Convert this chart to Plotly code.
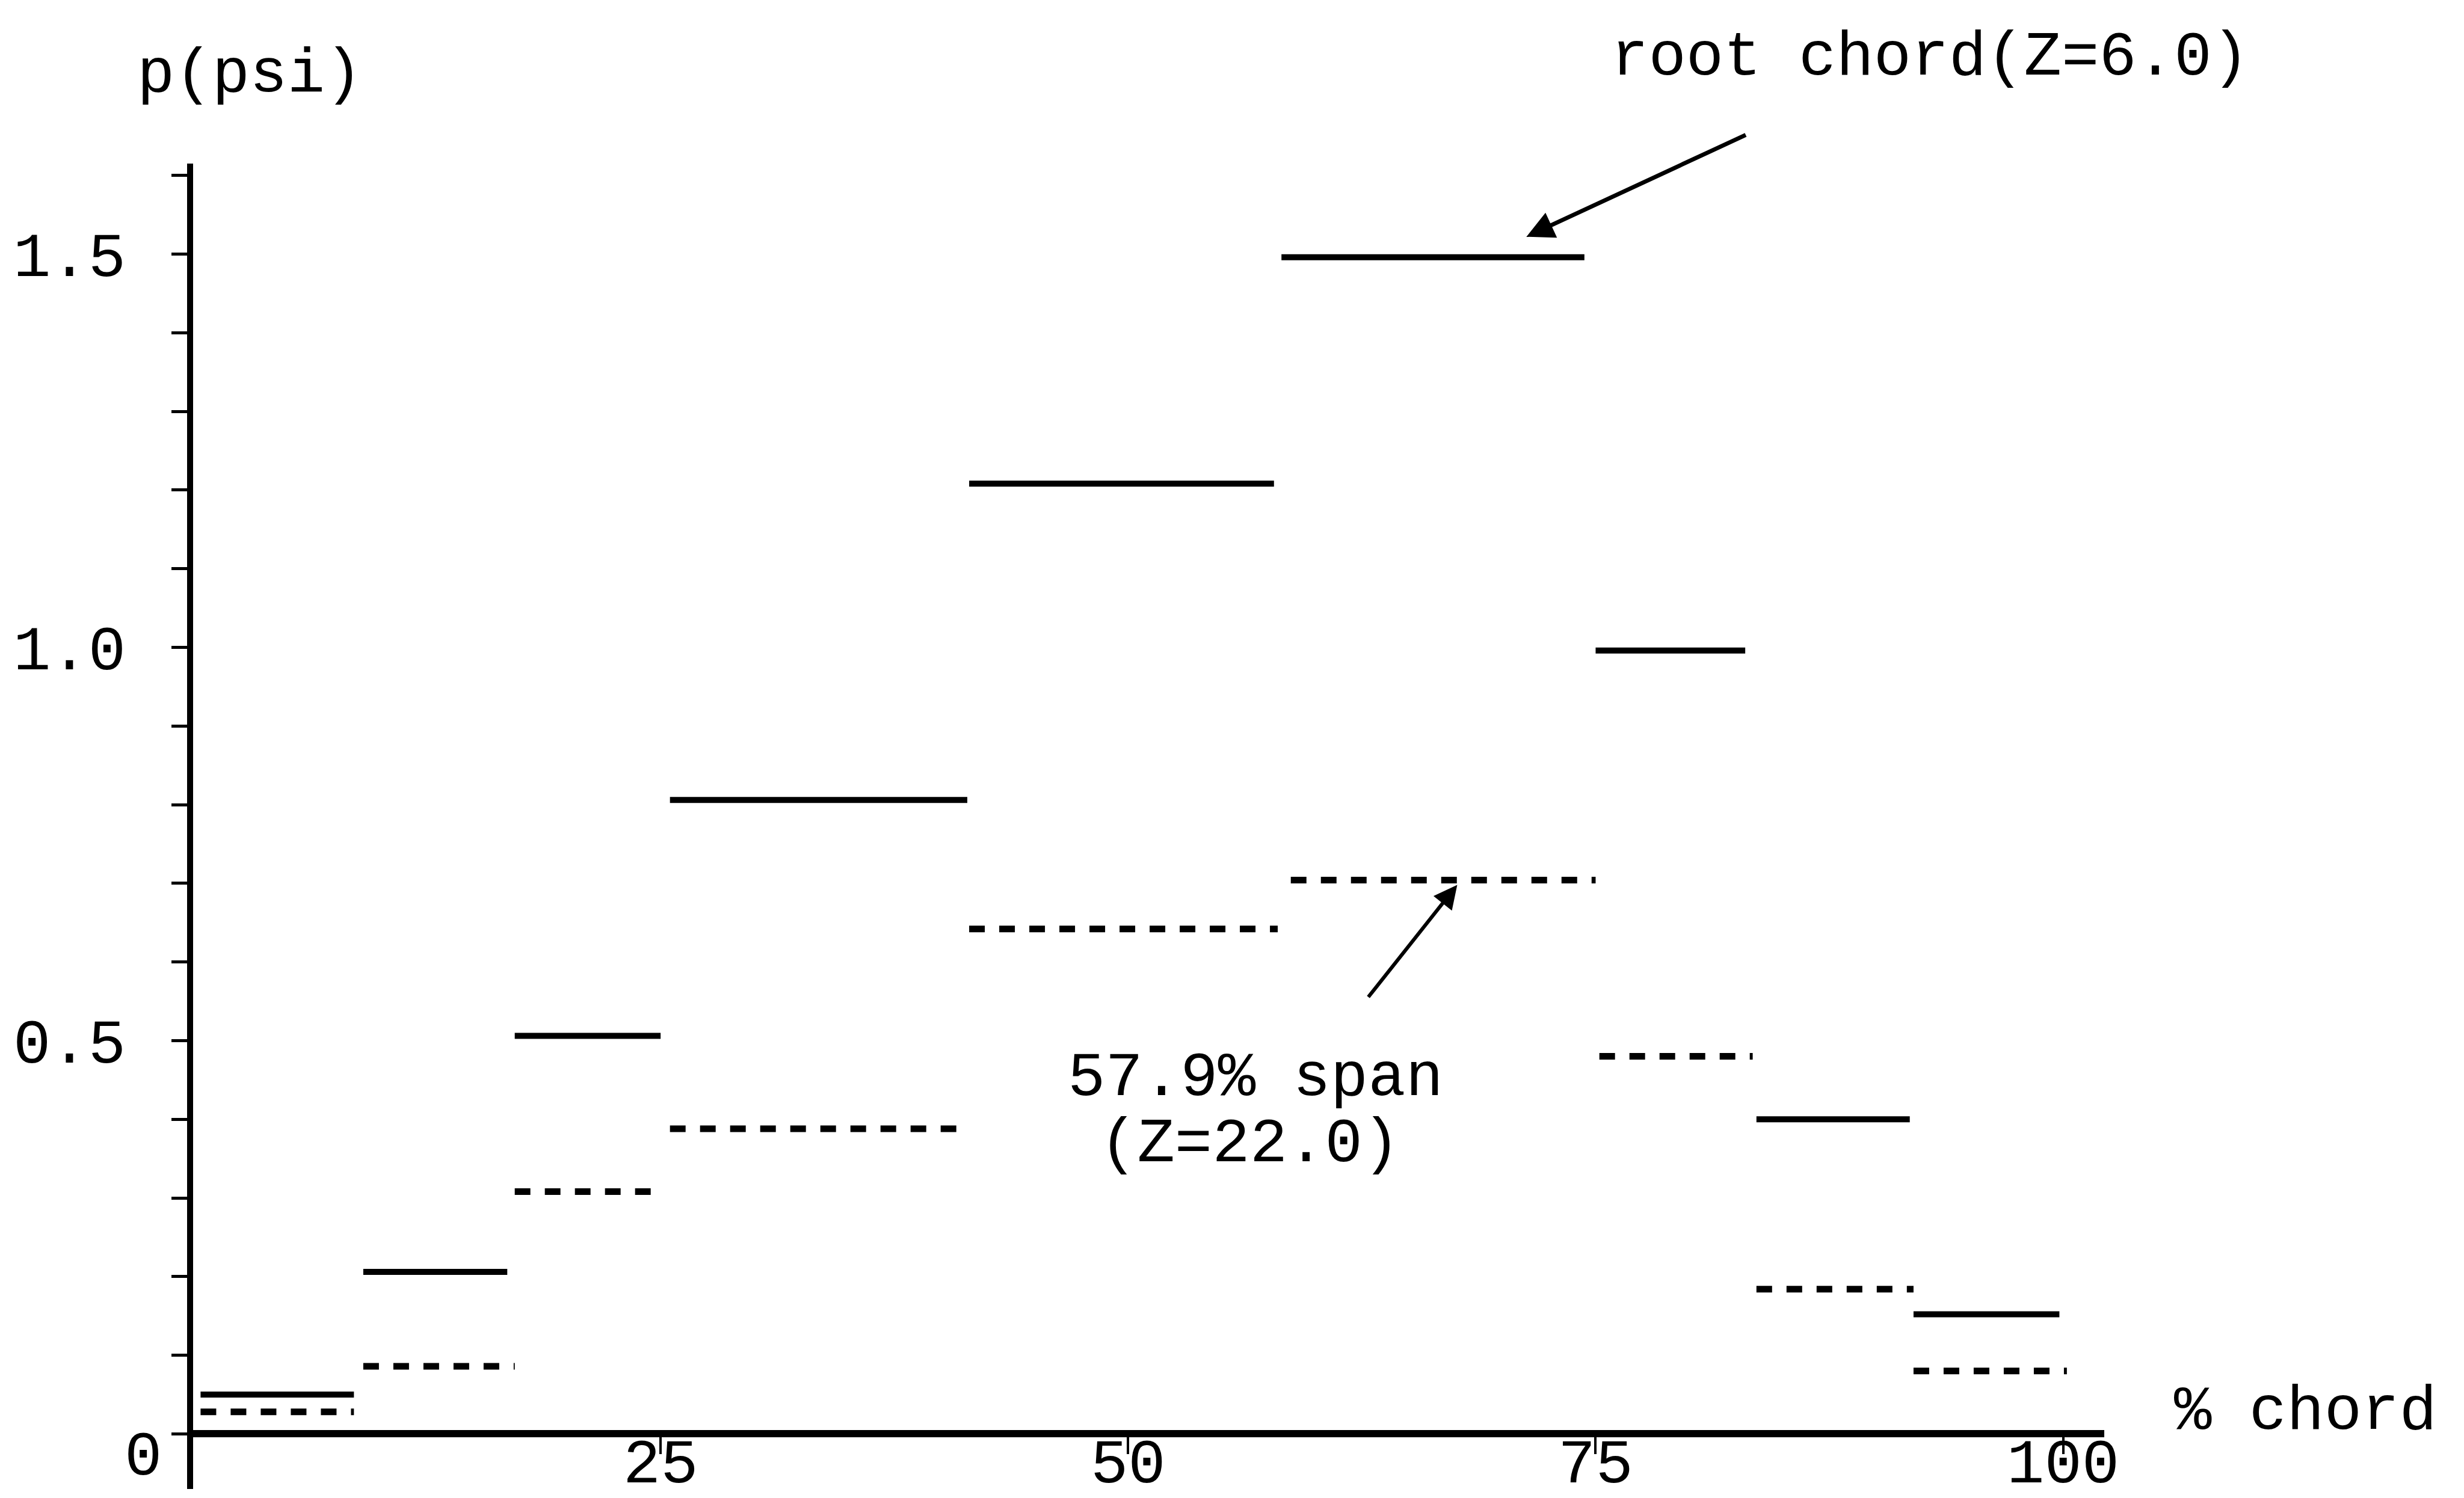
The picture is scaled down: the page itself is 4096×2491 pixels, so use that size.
import plotly.graph_objects as go

# ---- data ----
root_start = [0.4, 9.1, 17.2, 25.5, 41.5, 58.2, 75.0, 83.6, 92.0]
root_end = [8.6, 16.8, 25.0, 41.4, 57.8, 74.4, 83.0, 91.8, 99.8]
root_p = [0.05, 0.206, 0.506, 0.806, 1.208, 1.496, 0.996, 0.40, 0.152]

span_start = [0.4, 9.1, 17.2, 25.5, 41.5, 58.7, 75.2, 83.6, 92.0]
span_end = [8.6, 17.2, 25.0, 41.4, 58.0, 75.0, 83.4, 92.0, 100.2]
span_p = [0.028, 0.086, 0.308, 0.388, 0.642, 0.704, 0.48, 0.184, 0.08]

x_tick_vals = [25, 50, 75, 100]
x_tick_text = ["25", "50", "75", "100"]
y_tick_vals = [0.0, 0.1, 0.2, 0.3, 0.4, 0.5, 0.6, 0.7, 0.8, 0.9, 1.0,
               1.1, 1.2, 1.3, 1.4, 1.5, 1.6]
y_tick_text = ["", "", "", "", "", "0.5", "", "", "", "", "1.0",
               "", "", "", "", "1.5", ""]

# ---- layout geometry (output pixels) ----
W, H = 4096, 2491
L, R, T, B = 313, 3490, 264, 2468
X_RANGE = [0, 102.2]
Y_RANGE = [-0.07, 1.615]
FONT = "Liberation Mono"
FS = 104


def steps(starts, ends, vals):
    xs, ys = [], []
    for a, b, v in zip(starts, ends, vals):
        xs += [a, b, None]
        ys += [v, v, None]
    return xs, ys


def paper(xo, yo):
    return (xo - L) / (R - L), (B - yo) / (B - T)


fig = go.Figure()
rx, ry = steps(root_start, root_end, root_p)
sx, sy = steps(span_start, span_end, span_p)
fig.add_trace(go.Scatter(x=rx, y=ry, mode="lines", name="root chord (Z=6.0)",
                         line=dict(color="black", width=10), connectgaps=False))
fig.add_trace(go.Scatter(x=sx, y=sy, mode="lines", name="57.9% span (Z=22.0)",
                         line=dict(color="black", width=11, dash="26px,24px"),
                         connectgaps=False))

annotations = []
# outside texts (paper coords)
for txt, xo, yo in [("p(psi)", 407, 116),
                    ("root chord(Z=6.0)", 3200, 88),
                    ("% chord", 3824, 2340),
                    ("0", 230, 2416)]:
    px, py = paper(xo, yo)
    annotations.append(dict(text=txt, x=px, y=py, xref="paper", yref="paper",
                            showarrow=False, xanchor="center", yanchor="middle",
                            font=dict(family=FONT, size=FS, color="black")))
# inside texts
annotations.append(dict(text="57.9% span", x=56.8, y=0.452, xref="x", yref="y",
                        showarrow=False, font=dict(family=FONT, size=FS, color="black")))
annotations.append(dict(text="(Z=22.0)", x=56.5, y=0.368, xref="x", yref="y",
                        showarrow=False, font=dict(family=FONT, size=FS, color="black")))
# arrows
annotations.append(dict(text="", x=71.3, y=1.522, xref="x", yref="y",
                        ax=366, ay=-170, showarrow=True, arrowhead=2,
                        arrowsize=1.3, arrowwidth=7, arrowcolor="black"))
annotations.append(dict(text="", x=67.6, y=0.698, xref="x", yref="y",
                        ax=-149, ay=188, showarrow=True, arrowhead=2,
                        arrowsize=1.3, arrowwidth=6, arrowcolor="black"))

x_pos = (0 - Y_RANGE[0]) / (Y_RANGE[1] - Y_RANGE[0])

fig.update_layout(
    width=W, height=H,
    margin=dict(l=L, r=W - R, t=T, b=H - B, pad=0),
    paper_bgcolor="white", plot_bgcolor="white",
    showlegend=False,
    font=dict(family=FONT, size=FS, color="black"),
    annotations=annotations,
    xaxis=dict(range=X_RANGE, anchor="free", position=x_pos,
               showline=True, linecolor="black", linewidth=12,
               showgrid=False, zeroline=False,
               tickmode="array", tickvals=x_tick_vals, ticktext=x_tick_text,
               ticks="outside", ticklen=28, tickwidth=4, tickcolor="black",
               ticklabelstandoff=-78,
               tickfont=dict(family=FONT, size=FS, color="black"),
               automargin=False),
    yaxis=dict(range=Y_RANGE, side="left",
               showline=True, linecolor="black", linewidth=10,
               showgrid=False, zeroline=False,
               tickmode="array", tickvals=y_tick_vals, ticktext=y_tick_text,
               ticks="outside", ticklen=26, tickwidth=5, tickcolor="black",
               ticklabelstandoff=55, ticklabelshift=0,
               tickfont=dict(family=FONT, size=FS, color="black"),
               automargin=False),
)

fig.write_html("out.html")
